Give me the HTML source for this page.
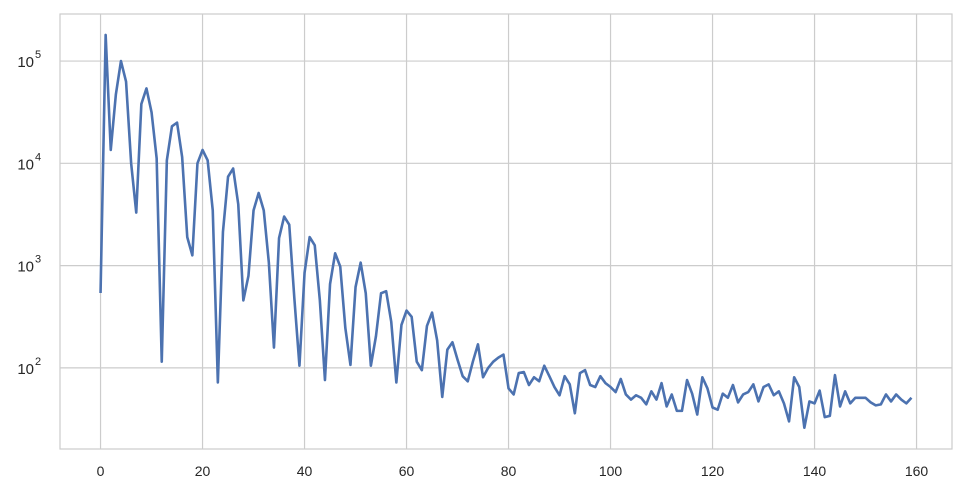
<!DOCTYPE html>
<html><head><meta charset="utf-8"><style>
body{margin:0;background:#fff;width:967px;height:496px;overflow:hidden}
svg text{font-family:"Liberation Sans",sans-serif;fill:#262626}
</style></head><body>
<svg id="chart" width="967" height="496" xmlns="http://www.w3.org/2000/svg"></svg>
<script>
const xTicks=[0,20,40,60,80,100,120,140,160];
const yTickExps=[2,3,4,5];
const values=[540,180000,13500,47000,100000,63000,10000,3300,38000,54000,31600,11200,115,10700,23000,25000,11500,1900,1260,10000,13500,10700,3470,72,2140,7400,8900,3980,457,794,3470,5130,3470,1070,158,1860,3020,2510,479,105,851,1900,1580,457,76,661,1320,977,245,107,617,1070,537,105,204,537,562,282,72,263,363,316,115,95,257,347,186,52,151,178,120,83,74,115,170,81,100,115,126,135,63,55,89,91,68,81,74,105,83,65,54,83,69,36,89,95,68,65,83,71,65,58,78,55,49,54,51,44,59,49,71,42,55,38,38,76,56,35,81,63,41,39,56,51,68,46,55,58,69,47,65,69,54,59,45,30,81,65,26,47,45,60,33,34,85,42,59,45,51,51,51,46,43,44,55,47,55,49,45,51];

const svg=document.getElementById('chart');
const NS='http://www.w3.org/2000/svg';
const L=60,R=952,T=14,B=449;
const xMin=-7.95,xMax=166.95,yMin=1.207,yMax=5.46;
const xs=v=>L+(v-xMin)/(xMax-xMin)*(R-L);
const ys=v=>B-(Math.log10(v)-yMin)/(yMax-yMin)*(B-T);
function mk(tag,attrs){const e=document.createElementNS(NS,tag);for(const k in attrs)e.setAttribute(k,attrs[k]);svg.appendChild(e);return e;}

xTicks.forEach(t=>{
  const x=xs(t);
  const g=mk('line',{x1:x,x2:x,y1:T,y2:B,stroke:'#cccccc','stroke-width':1.2});
  
  
  const lb=mk('text',{x:x,y:476,'text-anchor':'middle','font-size':14});
  lb.textContent=t;
  
  
});
yTickExps.forEach(e=>{
  const y=ys(Math.pow(10,e));
  const g=mk('line',{x1:L,x2:R,y1:y,y2:y,stroke:'#cccccc','stroke-width':1.2});
  
  
  const lb=mk('text',{x:34,y:y+6,'text-anchor':'end','font-size':15});
  lb.textContent='10';
  
  
  const sp=mk('text',{x:35,y:y-3,'font-size':11});
  sp.textContent=e;
  
  
});
const frame=mk('rect',{x:L,y:T,width:R-L,height:B-T,fill:'none',stroke:'#cccccc','stroke-width':1.2});


const d=values.map((v,i)=>(i?'L':'M')+xs(i).toFixed(2)+','+ys(v).toFixed(2)).join(' ');
const line=mk('path',{d:d,fill:'none',stroke:'#4c72b0','stroke-width':2.6,'stroke-linejoin':'round'});


</script>
</body></html>
